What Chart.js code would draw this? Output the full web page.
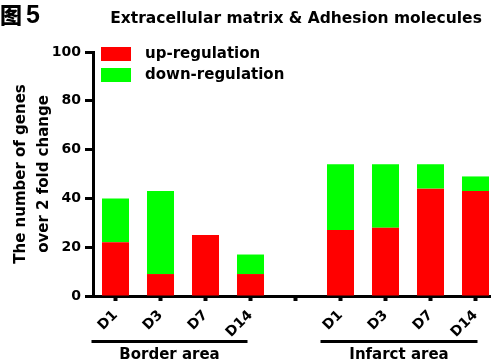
<!DOCTYPE html>
<html>
<head>
<meta charset="utf-8">
<script src="https://cdn.jsdelivr.net/npm/chart.js@4"></script>
<style>
  html, body { margin: 0; padding: 0; overflow: hidden; background: #fff; }
  #wrap { position: relative; width: 491px; height: 362px; overflow: hidden; }
  #chart { position: absolute; left: 0; top: 0; }
  #fig { position: absolute; left: 0; top: -3px; font-weight: 900; color: #000; white-space: nowrap; }
  #fig .cjk { font-family: "Noto Sans CJK SC"; font-size: 22px; }
  #fig .num { font-family: "Liberation Sans Narrow", "Liberation Sans"; font-size: 25px; font-weight: bold; margin-left: 4px; }
</style>
</head>
<body>
<div id="wrap">
  <canvas id="chart" width="505" height="362"></canvas>
  <div id="fig"><span class="cjk">图</span><span class="num">5</span></div>
</div>
<script>
const $ = (s) => document.querySelector(s);

const categories = ["D1", "D3", "D7", "D14", "", "D1", "D3", "D7", "D14"];
const upRegulation = [22, 9, 25, 9, null, 27, 28, 44, 43];
const downRegulation = [18, 34, null, 8, null, 27, 26, 10, 6];
const groups = [
  { name: "Border area", from: 0, to: 3 },
  { name: "Infarct area", from: 5, to: 8 },
];
const chartTitle = "Extracellular matrix & Adhesion molecules";
const yTitle = ["The number of genes", "over 2 fold change"];

const FONT = "DejaVu Sans";

const extras = {
  id: "extras",
  afterDraw(chart) {
    const ctx = chart.ctx;
    const x = chart.scales.x;
    const area = chart.chartArea;
    ctx.save();
    ctx.fillStyle = "#000";

    // title
    ctx.font = `bold 15.5px "${FONT}"`;
    ctx.textAlign = "center";
    ctx.textBaseline = "middle";
    ctx.fillText(chartTitle, 296, 19);

    // legend
    ctx.font = `bold 15px "${FONT}"`;
    chart.data.datasets.forEach((ds, i) => {
      const y = area.top - 5 + i * 21;
      ctx.fillStyle = ds.backgroundColor;
      ctx.fillRect(area.left + 8, y, 30, 14);
      ctx.fillStyle = "#000";
      ctx.textAlign = "left";
      ctx.fillText(ds.label, area.left + 52, y + 7);
    });

    // group lines + names
    groups.forEach((g, i) => {
      const x0 = x.getPixelForValue(g.from) - (i === 0 ? 24 : 20);
      const x1 = x.getPixelForValue(g.to) + (i === 0 ? -3 : 2);
      ctx.fillRect(x0, 340, x1 - x0, 3);
      ctx.textAlign = "center";
      ctx.fillText(g.name, (x0 + x1) / 2, 355);
    });
    ctx.restore();
  },
};

new Chart($("#chart"), {
  type: "bar",
  data: {
    labels: categories,
    datasets: [
      {
        label: "up-regulation",
        data: upRegulation,
        backgroundColor: "#ff0000",
        barPercentage: 0.6,
        categoryPercentage: 1,
      },
      {
        label: "down-regulation",
        data: downRegulation,
        backgroundColor: "#00ff00",
        barPercentage: 0.6,
        categoryPercentage: 1,
      },
    ],
  },
  options: {
    responsive: false,
    animation: false,
    layout: { padding: { left: 6, top: 52, right: 7, bottom: 0 } },
    plugins: {
      legend: { display: false },
      tooltip: { enabled: false },
    },
    scales: {
      x: {
        stacked: true,
        grid: {
          offset: false,
          drawOnChartArea: false,
          tickLength: 5,
          tickWidth: 4,
          tickColor: "#000",
        },
        border: { color: "#000", width: 3 },
        ticks: {
          autoSkip: false,
          minRotation: 45,
          maxRotation: 45,
          color: "#000",
          padding: 6,
          font: { family: FONT, weight: "bold", size: 14 },
        },
        afterFit: (s) => { s.height = 66; },
      },
      y: {
        stacked: true,
        min: 0,
        max: 100,
        grid: {
          drawOnChartArea: false,
          tickLength: 8,
          tickWidth: 3,
          tickColor: "#000",
        },
        border: { color: "#000", width: 3 },
        ticks: {
          stepSize: 20,
          color: "#000",
          padding: 4,
          font: { family: FONT, weight: "bold", size: 14 },
        },
        title: {
          display: true,
          text: yTitle,
          color: "#000",
          padding: { top: 4, bottom: 0 },
          font: { family: FONT, weight: "bold", size: 15, lineHeight: 1.5 },
        },
        afterFit: (s) => { s.width = 87; },
      },
    },
  },
  plugins: [extras],
});
</script>
</body>
</html>
